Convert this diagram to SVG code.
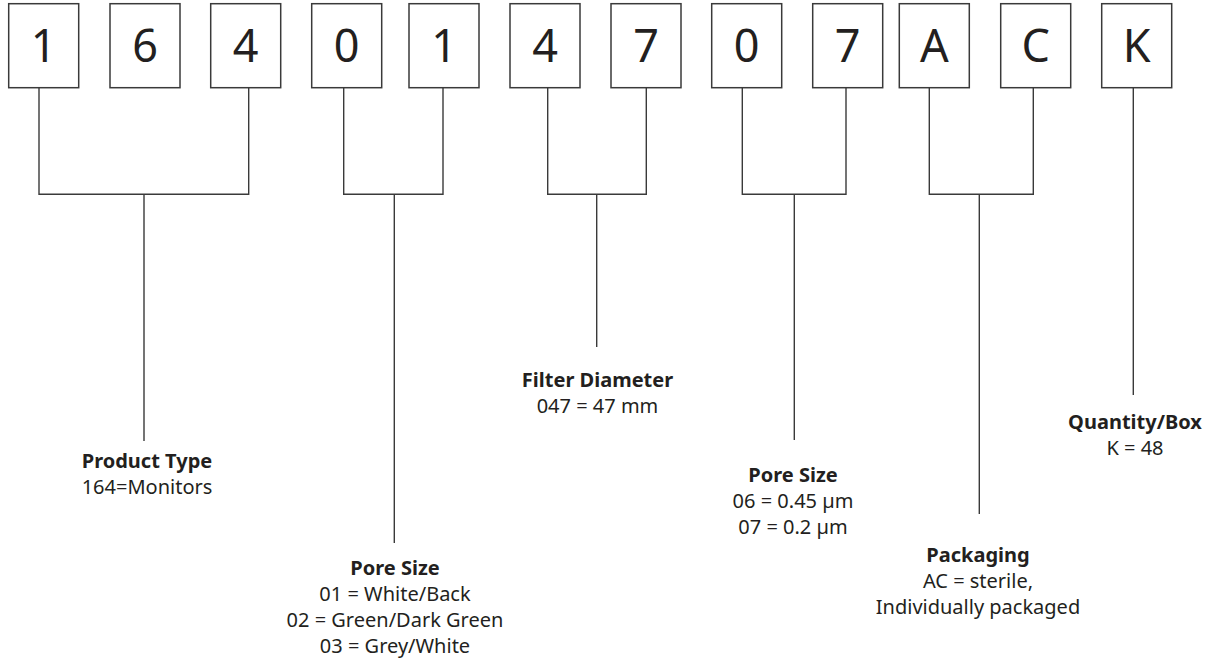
<svg xmlns="http://www.w3.org/2000/svg" width="1207" height="661" viewBox="0 0 1207 661">
<style>
.box{fill:#fff;stroke:#3a3a3a;stroke-width:1.5}
.ch{font-family:"Noto Sans","Open Sans",sans-serif;font-size:45px;fill:#231f20;text-anchor:middle}
.ln{fill:none;stroke:#3a3a3a;stroke-width:1.4}
.t{font-family:"Noto Sans","Open Sans",sans-serif;font-size:20px;fill:#231f20;text-anchor:middle}
.b{font-weight:bold}
</style>
<rect width="1207" height="661" fill="#fff"/>
<g id="connectors">
<path class="ln" d="M39,88V194.3H248.7V88M144,194.3V441"/>
<path class="ln" d="M343.7,88V194.3H443V88M394.3,194.3V543"/>
<path class="ln" d="M547.7,88V194.3H646.3V88M596.7,194.3V347"/>
<path class="ln" d="M742.3,88V194.3H846V88M794.3,194.3V440"/>
<path class="ln" d="M929.3,88V194.3H1033.3V88M979.3,194.3V514"/>
<path class="ln" d="M1133.3,88V395"/>
</g>
<g id="box1"><rect class="box" x="8.7" y="3.7" width="70" height="84"/><text class="ch" x="43.7" y="61.5">1</text></g>
<g id="box2"><rect class="box" x="110" y="3.7" width="70" height="84"/><text class="ch" x="145" y="61.5">6</text></g>
<g id="box3"><rect class="box" x="210.7" y="3.7" width="70" height="84"/><text class="ch" x="245.7" y="61.5">4</text></g>
<g id="box4"><rect class="box" x="311.7" y="3.7" width="70" height="84"/><text class="ch" x="346.7" y="61.5">0</text></g>
<g id="box5"><rect class="box" x="409" y="3.7" width="70" height="84"/><text class="ch" x="444" y="61.5">1</text></g>
<g id="box6"><rect class="box" x="510" y="3.7" width="70" height="84"/><text class="ch" x="545" y="61.5">4</text></g>
<g id="box7"><rect class="box" x="611" y="3.7" width="70" height="84"/><text class="ch" x="646" y="61.5">7</text></g>
<g id="box8"><rect class="box" x="711.7" y="3.7" width="70" height="84"/><text class="ch" x="746.7" y="61.5">0</text></g>
<g id="box9"><rect class="box" x="812.7" y="3.7" width="70" height="84"/><text class="ch" x="847.7" y="61.5">7</text></g>
<g id="box10"><rect class="box" x="899.3" y="3.7" width="70" height="84"/><text class="ch" x="934.3" y="61.5">A</text></g>
<g id="box11"><rect class="box" x="1000.7" y="3.7" width="70" height="84"/><text class="ch" x="1035.7" y="61.5">C</text></g>
<g id="box12"><rect class="box" x="1101.7" y="3.7" width="70" height="84"/><text class="ch" x="1136.7" y="61.5">K</text></g>
<g id="label-product-type">
<text class="t b" x="147" y="468">Product Type</text>
<text class="t" x="147" y="494">164=Monitors</text>
</g>
<g id="label-pore-size-1">
<text class="t b" x="395" y="575">Pore Size</text>
<text class="t" x="395" y="601">01 = White/Back</text>
<text class="t" x="395" y="627">02 = Green/Dark Green</text>
<text class="t" x="395" y="653">03 = Grey/White</text>
</g>
<g id="label-filter-diameter">
<text class="t b" x="597.5" y="387">Filter Diameter</text>
<text class="t" x="597.5" y="413">047 = 47 mm</text>
</g>
<g id="label-pore-size-2">
<text class="t b" x="793" y="482">Pore Size</text>
<text class="t" x="793" y="508">06 = 0.45 µm</text>
<text class="t" x="793" y="534">07 = 0.2 µm</text>
</g>
<g id="label-packaging">
<text class="t b" x="978" y="562">Packaging</text>
<text class="t" x="978" y="588">AC = sterile,</text>
<text class="t" x="978" y="614">Individually packaged</text>
</g>
<g id="label-quantity">
<text class="t b" x="1135" y="429">Quantity/Box</text>
<text class="t" x="1135" y="455">K = 48</text>
</g>
</svg>
